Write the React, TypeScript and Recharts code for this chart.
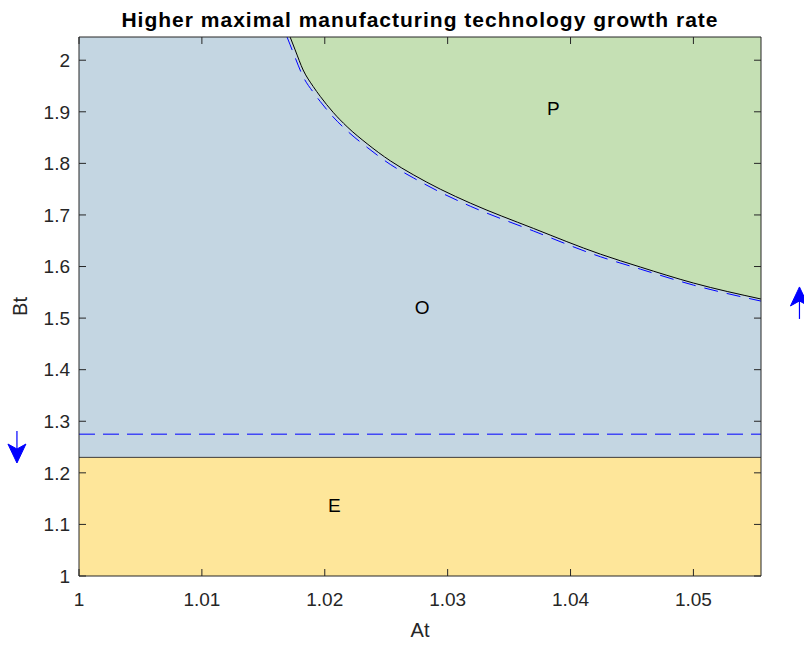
import React from "react";
import {
  ComposedChart,
  Area,
  Line,
  XAxis,
  YAxis,
  ReferenceArea,
  ReferenceLine,
  ReferenceDot,
  Label,
} from "recharts";

// boundary between O and P (solid) and its shifted counterpart (dashed)
const curveX = [1.01693, 1.01718, 1.01759, 1.01824, 1.01906, 1.01963, 1.02068, 1.02182, 1.02345, 1.02533, 1.0272, 1.0294, 1.03184, 1.03697, 1.04243, 1.04568, 1.05, 1.0555];
const boundaryY = [null, 2.045, 2.02, 1.981, 1.949, 1.93, 1.899, 1.871, 1.838, 1.805, 1.778, 1.75, 1.723, 1.674, 1.624, 1.599, 1.568, 1.537];
const dashedY = [2.045, 2.03, 2.005, 1.968, 1.938, 1.92, 1.89, 1.863, 1.831, 1.798, 1.772, 1.744, 1.717, 1.669, 1.619, 1.595, 1.564, 1.533];

const xTicks = [1, 1.01, 1.02, 1.03, 1.04, 1.05];
const yTicks = [1, 1.1, 1.2, 1.3, 1.4, 1.5, 1.6, 1.7, 1.8, 1.9, 2];

const xDomain = [1, 1.0555];
const yDomain = [1, 2.045];

const eBoundary = 1.23; // E / O border
const eDashed = 1.275;

const regionLabels = [
  { name: "P", x: 1.0386, y: 1.906 },
  { name: "O", x: 1.02793, y: 1.5216 },
  { name: "E", x: 1.02077, y: 1.1377 },
];

// direction markers outside the axes
const arrows = [
  { x: 0.99495, y: 1.2501, dir: "down" },
  { x: 1.05863, y: 1.5294, dir: "up" },
];

const data = curveX.map((x, i) => ({
  x,
  boundary: boundaryY[i],
  dashed: dashedY[i],
  band: boundaryY[i] == null ? null : [boundaryY[i], yDomain[1]],
}));

const FONT = "Arial, 'Liberation Sans', Helvetica, sans-serif";
const AXIS = "#262626";
const BLUE = "#0000ff";

const Arrow = ({ cx, cy, dir }: any) => {
  const s = dir === "down" ? 1 : -1;
  return (
    <g>
      <line x1={cx} y1={cy - 16 * s} x2={cx} y2={cy + 2 * s} stroke={BLUE} strokeWidth={1.2} />
      <polygon
        points={`${cx},${cy + 16 * s} ${cx - 9},${cy - 3 * s} ${cx},${cy + 2 * s} ${cx + 9},${cy - 3 * s}`}
        fill={BLUE}
        stroke={BLUE}
        strokeWidth={1}
        strokeLinejoin="round"
      />
    </g>
  );
};

export default function App() {
  return (
    <div style={{ position: "absolute", left: 0, top: 0, width: 804, height: 648, fontFamily: FONT }}>
      <div
        style={{
          position: "absolute",
          left: 40,
          top: 10,
          width: 760,
          textAlign: "center",
          fontSize: 21,
          letterSpacing: "1px",
          lineHeight: "20px",
          fontWeight: "bold",
          color: "#000",
        }}
      >
        Higher maximal manufacturing technology growth rate
      </div>
      <ComposedChart
        width={804}
        height={648}
        data={data}
        margin={{ top: 32, right: 33, bottom: 0, left: 0 }}
      >
        <XAxis
          dataKey="x"
          type="number"
          domain={xDomain}
          ticks={xTicks}
          allowDataOverflow
          height={72}
          tickSize={-7}
          tickMargin={24}
          stroke={AXIS}
          tick={{ fill: AXIS, fontSize: 19, fontFamily: FONT }}
        >
          <Label value="At" position="insideBottom" offset={11} fill={AXIS} fontSize={20} fontFamily={FONT} />
        </XAxis>
        <XAxis
          xAxisId="top"
          orientation="top"
          dataKey="x"
          type="number"
          domain={xDomain}
          ticks={xTicks}
          allowDataOverflow
          height={5}
          tickSize={-7}
          stroke={AXIS}
          tickFormatter={() => ""}
        />
        <YAxis
          type="number"
          domain={yDomain}
          ticks={yTicks}
          allowDataOverflow
          width={79}
          tickSize={-7}
          tickMargin={16}
          stroke={AXIS}
          tick={{ fill: AXIS, fontSize: 19, fontFamily: FONT }}
        >
          <Label
            value="Bt"
            angle={-90}
            position="insideLeft"
            offset={20}
            fill={AXIS}
            fontSize={20}
            fontFamily={FONT}
            style={{ textAnchor: "middle" }}
          />
        </YAxis>
        <YAxis
          yAxisId="right"
          orientation="right"
          type="number"
          domain={yDomain}
          ticks={yTicks}
          allowDataOverflow
          width={10}
          tickSize={-7}
          stroke={AXIS}
          tickFormatter={() => ""}
        />

        <ReferenceArea x1={xDomain[0]} x2={xDomain[1]} y1={eBoundary} y2={yDomain[1]} fill="#c4d6e2" fillOpacity={1} stroke="none" />
        <ReferenceArea x1={xDomain[0]} x2={xDomain[1]} y1={yDomain[0]} y2={eBoundary} fill="#fee69a" fillOpacity={1} stroke="none" />

        <Area
          dataKey="band"
          type="monotone"
          fill="#c5e0b4"
          fillOpacity={1}
          stroke="none"
          connectNulls
          isAnimationActive={false}
          activeDot={false}
        />
        <ReferenceLine y={eBoundary} stroke="#3a3a3a" strokeWidth={1} />
        <ReferenceLine y={eDashed} stroke={BLUE} strokeWidth={1} strokeDasharray="16 8" />
        <Line
          dataKey="dashed"
          type="monotone"
          stroke={BLUE}
          strokeWidth={1}
          strokeDasharray="14 9"
          dot={false}
          activeDot={false}
          isAnimationActive={false}
        />
        <Line
          dataKey="boundary"
          type="monotone"
          stroke="#000"
          strokeWidth={1}
          dot={false}
          activeDot={false}
          connectNulls
          isAnimationActive={false}
        />

        {regionLabels.map((r) => (
          <ReferenceDot
            key={r.name}
            x={r.x}
            y={r.y}
            r={0}
            stroke="none"
            label={{ value: r.name, position: "center", fill: "#000", fontSize: 19, fontFamily: FONT }}
          />
        ))}
        {arrows.map((a) => (
          <ReferenceDot
            key={a.dir}
            x={a.x}
            y={a.y}
            ifOverflow="visible"
            shape={(p: any) => <Arrow cx={p.cx} cy={p.cy} dir={a.dir} />}
          />
        ))}
      </ComposedChart>
    </div>
  );
}
